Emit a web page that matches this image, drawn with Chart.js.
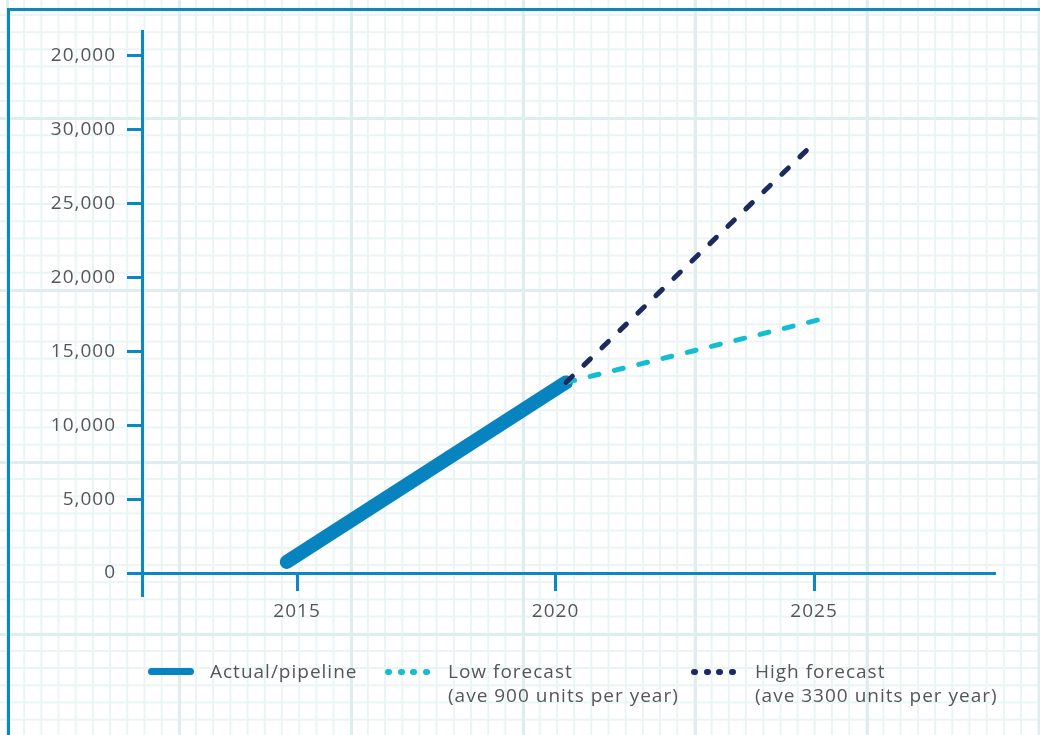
<!DOCTYPE html>
<html>
<head>
<meta charset="utf-8">
<script src="https://cdn.jsdelivr.net/npm/chart.js@4"></script>
<style>
  html, body { margin: 0; padding: 0; background: #fff; }
  #wrap {
    position: relative; width: 1040px; height: 735px; overflow: hidden;
    background-color: #fff;
    background-image:
      linear-gradient(to right, #deeded 3px, transparent 3px),
      linear-gradient(to bottom, #deeded 3px, transparent 3px),
      linear-gradient(to right, #eaf4f4 2px, transparent 2px),
      linear-gradient(to bottom, #eaf4f4 2px, transparent 2px);
    background-size: 172px 172px, 172px 172px, 17.2px 17.2px, 17.2px 17.2px;
    background-position: 178px 0, 0 117px, 6px 0, 0 14px;
    font-family: "Open Sans", sans-serif;
  }
  #frame {
    position: absolute; left: 7px; top: 8px; width: 1100px; height: 800px;
    border: 3px solid #0b87c1;
  }
  #chart { position: absolute; left: 0; top: 0; }
  .lg { position: absolute; font-size: 19px; line-height: 24px; letter-spacing: 1px; color: #555658; white-space: nowrap; }
  .sw { position: absolute; }
</style>
</head>
<body>
<div id="wrap">
  <div id="frame"></div>
  <canvas id="chart" width="1040" height="735"></canvas>
  <div id="legend"></div>
</div>
<script>
// data
var actualYears = [2014.8, 2020.2];
var actualUnits = [750, 12900];
var lowYears = [2020.2, 2025.1];
var lowUnits = [12900, 17150];
var highYears = [2020.2, 2025.0];
var highUnits = [12900, 29100];

var xTickValues = [2015, 2020, 2025];
var yTickValues = [0, 5000, 10000, 15000, 20000, 25000, 30000, 35000];
var yTickLabels = ["0", "5,000", "10,000", "15,000", "20,000", "25,000", "30,000", "20,000"];

var seriesNames = ["Actual/pipeline", "Low forecast", "High forecast"];
var seriesNotes = ["", "(ave 900 units per year)", "(ave 3300 units per year)"];
var seriesColors = ["#0783c0", "#14bdd1", "#1c2a5c"];

var axisBlue = "#0b87c1";
var labelGrey = "#555658";

function toPoints(xs, ys) {
    var pts = [];
    for (var i = 0; i < xs.length; i++) {
        pts.push({ x: xs[i], y: ys[i] });
    }
    return pts;
}

// wider letters for the axis labels, like the original type
var spacing = {
    id: "spacing",
    beforeUpdate: function (chart) { chart.ctx.letterSpacing = "1px"; },
    beforeDraw: function (chart) { chart.ctx.letterSpacing = "1px"; }
};

var ctx = document.getElementById("chart").getContext("2d");
new Chart(ctx, {
    type: "line",
    data: {
        datasets: [{
            label: seriesNames[0],
            data: toPoints(actualYears, actualUnits),
            borderColor: seriesColors[0],
            borderWidth: 14,
            borderCapStyle: "round",
            order: 3
        }, {
            label: seriesNames[1],
            data: toPoints(lowYears, lowUnits),
            borderColor: seriesColors[1],
            borderWidth: 5,
            borderCapStyle: "round",
            borderDash: [9, 16],
            order: 2
        }, {
            label: seriesNames[2],
            data: toPoints(highYears, highUnits),
            borderColor: seriesColors[2],
            borderWidth: 5,
            borderCapStyle: "round",
            borderDash: [9, 16],
            order: 1
        }]
    },
    plugins: [spacing],
    options: {
        responsive: false,
        animation: false,
        elements: { point: { radius: 0 }, line: { tension: 0, fill: false } },
        layout: { padding: { left: 0, top: 31, right: 45, bottom: 139 } },
        plugins: { legend: { display: false }, tooltip: { enabled: false } },
        scales: {
            x: {
                type: "linear",
                position: { y: 0 },
                min: 2012,
                max: 2028.5,
                afterBuildTicks: function (scale) {
                    scale.ticks = xTickValues.map(function (v) { return { value: v }; });
                },
                ticks: {
                    color: labelGrey,
                    font: { family: "Open Sans", size: 19 },
                    padding: 11,
                    maxRotation: 0,
                    callback: function (v) { return String(v); }
                },
                grid: { drawOnChartArea: false, tickLength: 16, tickWidth: 3, tickColor: axisBlue },
                border: { color: axisBlue, width: 3 }
            },
            y: {
                type: "linear",
                min: -1556,
                max: 36690,
                afterBuildTicks: function (scale) {
                    scale.ticks = yTickValues.map(function (v) { return { value: v }; });
                },
                afterFit: function (scale) { scale.width = 142; },
                ticks: {
                    color: labelGrey,
                    font: { family: "Open Sans", size: 19 },
                    padding: 11,
                    callback: function (v, i) { return yTickLabels[i]; }
                },
                grid: { drawOnChartArea: false, tickLength: 15, tickWidth: 3, tickColor: axisBlue },
                border: { color: axisBlue, width: 3 }
            }
        }
    }
});

// legend below the plot
var legend = document.getElementById("legend");
var itemLeft = [148, 385, 691];
var textLeft = [210, 448, 755];
for (var k = 0; k < seriesNames.length; k++) {
    if (k === 0) {
        var bar = document.createElement("div");
        bar.className = "sw";
        bar.style.cssText = "left:" + itemLeft[k] + "px;top:668px;width:46px;height:7px;border-radius:4px;background:" + seriesColors[k];
        legend.appendChild(bar);
    } else {
        for (var d = 0; d < 4; d++) {
            var dot = document.createElement("div");
            dot.className = "sw";
            dot.style.cssText = "left:" + (itemLeft[k] + d * 12.5) + "px;top:669px;width:7px;height:6px;border-radius:3px;background:" + seriesColors[k];
            legend.appendChild(dot);
        }
    }
    var txt = document.createElement("div");
    txt.className = "lg";
    txt.style.left = textLeft[k] + "px";
    txt.style.top = "659px";
    txt.innerHTML = seriesNames[k] + (seriesNotes[k] ? "<br>" + seriesNotes[k] : "");
    legend.appendChild(txt);
}
</script>
</body>
</html>
